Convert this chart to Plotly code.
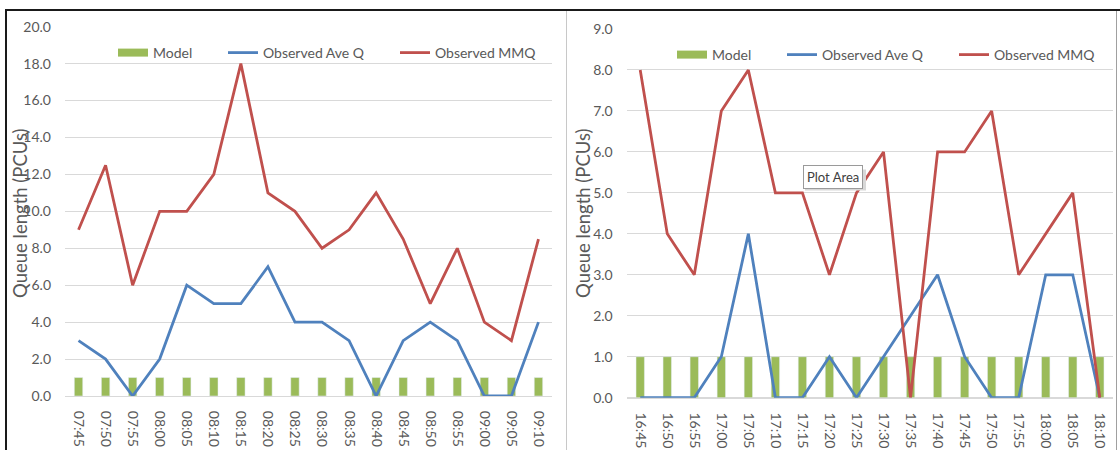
import plotly.graph_objects as go

# Time bins for the morning (left) and evening (right) survey periods
am_times = ["07:45", "07:50", "07:55", "08:00", "08:05", "08:10", "08:15", "08:20", "08:25",
            "08:30", "08:35", "08:40", "08:45", "08:50", "08:55", "09:00", "09:05", "09:10"]
am_model = [1, 1, 1, 1, 1, 1, 1, 1, 1, 1, 1, 1, 1, 1, 1, 1, 1, 1]
am_ave_q = [3, 2, 0, 2, 6, 5, 5, 7, 4, 4, 3, 0, 3, 4, 3, 0, 0, 4]
am_mmq = [9, 12.5, 6, 10, 10, 12, 18, 11, 10, 8, 9, 11, 8.5, 5, 8, 4, 3, 8.5]

pm_times = ["16:45", "16:50", "16:55", "17:00", "17:05", "17:10", "17:15", "17:20", "17:25",
            "17:30", "17:35", "17:40", "17:45", "17:50", "17:55", "18:00", "18:05", "18:10"]
pm_model = [1, 1, 1, 1, 1, 1, 1, 1, 1, 1, 1, 1, 1, 1, 1, 1, 1, 1]
pm_ave_q = [0, 0, 0, 1, 4, 0, 0, 1, 0, 1, 2, 3, 1, 0, 0, 3, 3, 0]
pm_mmq = [8, 4, 3, 7, 8, 5, 5, 3, 5, 6, 0, 6, 6, 7, 3, 4, 5, 0]

W, H = 1120, 450
GREEN, BLUE, RED = "#9BBB59", "#4F81BD", "#C0504D"
GRID, TXT = "#D9D9D9", "#595959"
FONT = "Lato"


def px(x):
    return x / W


def py(y):
    return 1 - y / H


fig = go.Figure()


def add_panel(times, model, ave_q, mmq, xa, ya, legend):
    xref = "x" if xa == 1 else f"x{xa}"
    yref = "y" if ya == 1 else f"y{ya}"
    fig.add_trace(go.Bar(x=times, y=model, name="Model", marker_color=GREEN,
                         width=0.31, xaxis=xref, yaxis=yref, showlegend=False))
    # legend key for the model bars, drawn as a wide flat swatch
    fig.add_trace(go.Scatter(x=[None], y=[None], mode="lines", name="Model",
                             line=dict(color=GREEN, width=8), xaxis=xref, yaxis=yref,
                             legend=legend, legendwidth=65, hoverinfo="skip"))
    fig.add_trace(go.Scatter(x=times, y=ave_q, mode="lines", name="Observed Ave Q",
                             line=dict(color=BLUE, width=2.8), xaxis=xref, yaxis=yref,
                             legend=legend, legendwidth=127))
    fig.add_trace(go.Scatter(x=times, y=mmq, mode="lines", name="Observed MMQ",
                             line=dict(color=RED, width=2.8), xaxis=xref, yaxis=yref,
                             legend=legend))


add_panel(am_times, am_model, am_ave_q, am_mmq, 1, 1, "legend")
add_panel(pm_times, pm_model, pm_ave_q, pm_mmq, 2, 2, "legend2")

xcommon = dict(type="category", range=[-0.5, 17.5], tickangle=90, showgrid=False,
               showline=True, linecolor=GRID, linewidth=1, ticks="",
               tickfont=dict(family=FONT, size=14, color=TXT), ticklabelstandoff=11,
               automargin=False, fixedrange=True)
ycommon = dict(showgrid=True, gridcolor=GRID, gridwidth=1, zeroline=True,
               zerolinecolor=GRID, zerolinewidth=1, tickformat=".1f", ticks="",
               tickfont=dict(family=FONT, size=14, color=TXT), ticklabelstandoff=13,
               automargin=False, fixedrange=True, showline=False)

legend_font = dict(family=FONT, size=14, color=TXT)

fig.update_layout(
    width=W, height=H,
    margin=dict(l=0, r=0, t=0, b=0),
    paper_bgcolor="white", plot_bgcolor="white",
    font=dict(family=FONT, color=TXT),
    xaxis=dict(xcommon, domain=[px(65), px(552)], anchor="y"),
    yaxis=dict(ycommon, domain=[py(396), py(26.7)], range=[0, 20], dtick=2, anchor="x"),
    xaxis2=dict(xcommon, domain=[px(626.7), px(1113.3)], anchor="y2"),
    yaxis2=dict(ycommon, domain=[py(397.7), py(29)], range=[0, 9], dtick=1, anchor="x2"),
    legend=dict(orientation="h", x=px(113), y=py(53), xanchor="left", yanchor="middle",
                font=legend_font, bgcolor="rgba(0,0,0,0)", traceorder="normal"),
    legend2=dict(orientation="h", x=px(672), y=py(55), xanchor="left", yanchor="middle",
                 font=legend_font, bgcolor="rgba(0,0,0,0)", traceorder="normal"),
    showlegend=True,
)

# axis titles
for xc in (20, 583):
    fig.add_annotation(text="Queue length (PCUs)", xref="paper", yref="paper",
                       x=px(xc), y=py(213), xanchor="center", yanchor="middle",
                       textangle=-90, showarrow=False,
                       font=dict(family=FONT, size=18.5, color=TXT))

# hover tag left over on the evening panel
fig.add_shape(type="rect", xref="paper", yref="paper",
              x0=px(805), x1=px(866), y0=py(169.5), y1=py(190.5),
              fillcolor="#D8D8D8", line=dict(width=0), layer="above")
fig.add_annotation(text="Plot Area", xref="paper", yref="paper", x=px(833), y=py(177.5),
                   xanchor="center", yanchor="middle",
                   showarrow=False, bgcolor="white", bordercolor="#9A9A9A", borderwidth=1,
                   borderpad=3, font=dict(family=FONT, size=13, color="#404040"))

# window frame around the two charts
frame = [
    dict(x0=5, x1=W, y0=10, y1=10, color="#1A1A1A", w=2),
    dict(x0=6, x1=6, y0=9, y1=H, color="#1A1A1A", w=2),
    dict(x0=566.5, x1=566.5, y0=11, y1=H, color="#C8C8C8", w=1),
    dict(x0=1116.5, x1=1116.5, y0=11, y1=H, color="#A0A0A0", w=1),
]
for f in frame:
    fig.add_shape(type="line", xref="paper", yref="paper",
                  x0=px(f["x0"]), x1=px(f["x1"]), y0=py(f["y0"]), y1=py(f["y1"]),
                  line=dict(color=f["color"], width=f["w"]), layer="above")

fig.write_html("out.html")
